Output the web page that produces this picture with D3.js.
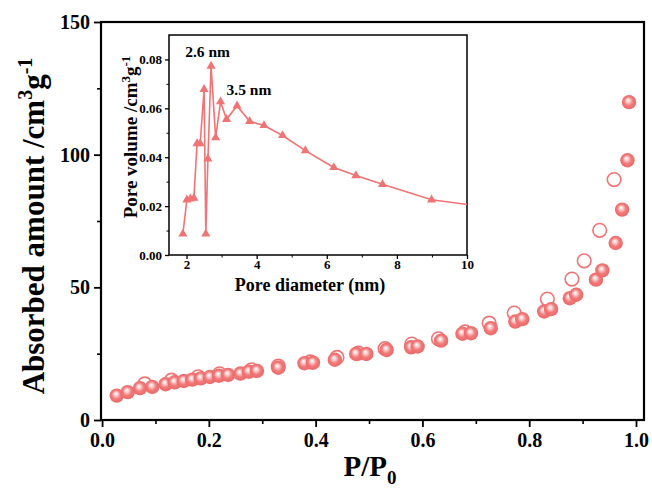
<!DOCTYPE html>
<html><head><meta charset="utf-8">
<script src="https://cdn.jsdelivr.net/npm/d3@7"></script>
<style>body{margin:0;background:#fff}svg{display:block}text{font-family:"Liberation Serif","Times New Roman",serif;font-weight:bold}</style>
</head><body>
<script>
// Adsorption branch (filled spheres)
const adsX = [0.0275,0.048,0.071,0.094,0.119,0.136,0.153,0.169,0.185,0.202,0.219,0.236,0.259,0.275,0.290,0.330,0.379,0.395,0.436,0.476,0.495,0.533,0.579,0.591,0.635,0.675,0.691,0.728,0.774,0.787,0.828,0.841,0.876,0.888,0.925,0.937,0.962,0.974,0.984,0.987];
const adsY = [9.2,10.5,12.0,12.5,13.5,14.2,14.7,15.2,15.7,16.2,16.7,17.0,17.5,18.2,18.5,19.7,21.4,21.6,22.7,24.9,24.9,26.4,27.4,27.7,29.9,32.5,32.7,34.6,37.1,38.0,40.9,41.8,45.9,47.2,52.9,56.4,66.7,79.3,97.9,119.8];
// Desorption branch (open circles)
const desX = [0.08,0.13,0.18,0.22,0.28,0.33,0.39,0.44,0.48,0.53,0.58,0.63,0.68,0.725,0.772,0.834,0.880,0.903,0.932,0.959];
const desY = [13.6,15.0,16.3,17.4,18.9,20.3,21.9,23.6,25.2,26.9,28.6,30.6,33.2,36.5,40.3,45.6,53.1,60.0,71.5,90.6];
// Inset: pore size distribution
const poreD = [1.895,2.01,2.11,2.21,2.30,2.39,2.50,2.55,2.61,2.70,2.83,2.97,3.14,3.44,3.80,4.21,4.74,5.39,6.20,6.83,7.59,8.99,10.6];
const poreV = [0.0086,0.0226,0.0230,0.0233,0.0456,0.0456,0.0678,0.0086,0.0393,0.0773,0.0480,0.0627,0.0555,0.0610,0.0547,0.0530,0.0489,0.0427,0.0358,0.0325,0.0289,0.0226,0.0195];
const mainXTicks = [0,0.2,0.4,0.6,0.8,1.0];
const mainYTicks = [0,50,100,150];
const insetXTicks = [2,4,6,8,10];
const insetYTicks = [0,0.02,0.04,0.06,0.08];
const peakLabels = [{t:"2.6 nm", d:2.6, v:0.0810},{t:"3.5 nm", d:3.78, v:0.0655}];

const W=652,H=493, C="#f07474";
const svg=d3.select("body").append("svg").attr("width",W).attr("height",H);
const defs=svg.append("defs");
const g=defs.append("radialGradient").attr("id","ball").attr("cx","50%").attr("cy","50%").attr("r","55%").attr("fx","42%").attr("fy","36%");
g.append("stop").attr("offset","0%").attr("stop-color","#ffffff");
g.append("stop").attr("offset","22%").attr("stop-color","#fbd3d3");
g.append("stop").attr("offset","55%").attr("stop-color","#f27a7a");
g.append("stop").attr("offset","100%").attr("stop-color","#ea6464");

const x=d3.scaleLinear().domain([-0.002,1.015]).range([101,644]);
const y=d3.scaleLinear().domain([0,150]).range([420,22]);

// minor ticks
const xMinor=d3.range(0.1,1.01,0.2), yMinor=[25,75,125];
svg.append("g").attr("transform","translate(0,420)").call(d3.axisBottom(x).tickValues(xMinor).tickSize(4).tickFormat("")).call(a=>{a.select(".domain").remove();a.selectAll("line").attr("stroke-width",1.6);});
svg.append("g").attr("transform","translate(101,0)").call(d3.axisLeft(y).tickValues(yMinor).tickSize(4).tickFormat("")).call(a=>{a.select(".domain").remove();a.selectAll("line").attr("stroke-width",1.6);});
const xa=svg.append("g").attr("transform","translate(0,420)").call(d3.axisBottom(x).tickValues(mainXTicks).tickSize(7).tickPadding(6).tickFormat(d3.format(".1f")));
const ya=svg.append("g").attr("transform","translate(101,0)").call(d3.axisLeft(y).tickValues(mainYTicks).tickSize(7).tickPadding(4).tickFormat(d3.format("d")));
[xa,ya].forEach(a=>{a.select(".domain").remove();a.selectAll("line").attr("stroke-width",1.8);a.selectAll("text").attr("font-size",20).attr("fill","#000").style("font-family","Liberation Serif").style("font-weight","bold");});
svg.append("rect").attr("x",101).attr("y",22).attr("width",543).attr("height",398).attr("fill","none").attr("stroke","#000").attr("stroke-width",2.2);

// data
svg.append("g").selectAll("circle").data(desX).join("circle").attr("cx",(d,i)=>x(d)).attr("cy",(d,i)=>y(desY[i])).attr("r",6.8).attr("fill","#fff").attr("stroke",C).attr("stroke-width",1.6);
svg.append("g").selectAll("circle").data(adsX).join("circle").attr("cx",(d,i)=>x(d)).attr("cy",(d,i)=>y(adsY[i])).attr("r",7.2).attr("fill","url(#ball)");

// titles
const yt=svg.append("text").attr("transform","translate(44,226) rotate(-90)").attr("text-anchor","middle").attr("font-size",31).attr("fill","#000");
yt.append("tspan").text("Absorbed amount /cm");
yt.append("tspan").attr("dy",-12).attr("font-size",20).text("3");
yt.append("tspan").attr("dy",12).text("g");
yt.append("tspan").attr("dy",-12).attr("font-size",20).text("-1");
const xt=svg.append("text").attr("x",370).attr("y",476).attr("text-anchor","middle").attr("font-size",29).attr("fill","#000");
xt.append("tspan").text("P/P");
xt.append("tspan").attr("dy",8).attr("font-size",19).text("0");

// inset
const ix=d3.scaleLinear().domain([1.5,10]).range([169,467]);
const iy=d3.scaleLinear().domain([0,0.09]).range([255,35]);
const ins=svg.append("g");
ins.append("g").attr("transform","translate(0,255)").call(d3.axisBottom(ix).tickValues([3,5,7,9]).tickSize(2.5).tickFormat("")).call(a=>a.select(".domain").remove());
ins.append("g").attr("transform","translate(169,0)").call(d3.axisLeft(iy).tickValues([0.01,0.03,0.05,0.07]).tickSize(2.5).tickFormat("")).call(a=>a.select(".domain").remove());
const ixa=ins.append("g").attr("transform","translate(0,255)").call(d3.axisBottom(ix).tickValues(insetXTicks).tickSize(4).tickPadding(1).tickFormat(d3.format("d")));
const iya=ins.append("g").attr("transform","translate(169,0)").call(d3.axisLeft(iy).tickValues(insetYTicks).tickSize(4).tickPadding(3).tickFormat(d3.format(".2f")));
[ixa,iya].forEach(a=>{a.select(".domain").remove();a.selectAll("line").attr("stroke-width",1.3);a.selectAll("text").attr("font-size",13).attr("fill","#000").style("font-family","Liberation Serif").style("font-weight","bold");});
ins.append("rect").attr("x",169).attr("y",35).attr("width",298).attr("height",220).attr("fill","none").attr("stroke","#000").attr("stroke-width",1.5);
defs.append("clipPath").attr("id","iclip").append("rect").attr("x",169).attr("y",35).attr("width",298).attr("height",220);
const pts=poreD.map((d,i)=>[d,poreV[i]]);
const clipG=ins.append("g").attr("clip-path","url(#iclip)");
clipG.append("path").attr("d",d3.line().x(d=>ix(d[0])).y(d=>iy(d[1]))(pts)).attr("fill","none").attr("stroke",C).attr("stroke-width",1.6);
clipG.selectAll("path.tri").data(pts).join("path").attr("class","tri").attr("transform",d=>`translate(${ix(d[0])},${iy(d[1])})`).attr("d",d3.symbol(d3.symbolTriangle,36)).attr("fill",C);
ins.selectAll("text.pk").data(peakLabels).join("text").attr("class","pk").attr("x",d=>ix(d.d)).attr("y",d=>iy(d.v)).attr("text-anchor","middle").attr("font-size",15.5).attr("fill","#000").text(d=>d.t);
const iyt=ins.append("text").attr("transform","translate(137,137) rotate(-90)").attr("text-anchor","middle").attr("font-size",19).attr("fill","#000");
iyt.append("tspan").text("Pore volume /cm");
iyt.append("tspan").attr("dy",-7).attr("font-size",13).text("3");
iyt.append("tspan").attr("dy",7).text("g");
iyt.append("tspan").attr("dy",-7).attr("font-size",13).text("-1");
ins.append("text").attr("x",310).attr("y",291).attr("text-anchor","middle").attr("font-size",18).attr("fill","#000").text("Pore diameter (nm)");
</script>
</body></html>
